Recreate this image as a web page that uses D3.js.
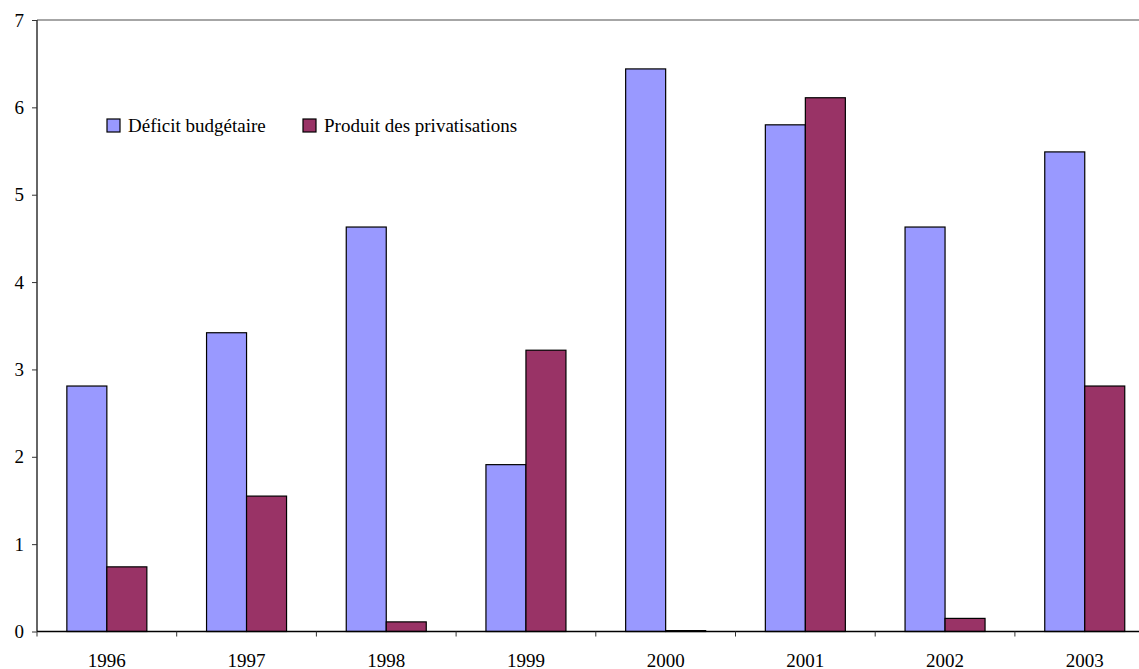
<!DOCTYPE html>
<html><head><meta charset="utf-8">
<script src="https://cdn.jsdelivr.net/npm/d3@7"></script>
<style>body{margin:0;background:#fff;}svg{display:block;}</style>
</head><body>
<svg id="chart" width="1139" height="669"></svg>
<script>
const categories = ["1996","1997","1998","1999","2000","2001","2002","2003"];
const seriesNames = ["Déficit budgétaire","Produit des privatisations"];
const deficit = [2.81,3.42,4.63,1.91,6.44,5.80,4.63,5.49];
const privatisations = [0.74,1.55,0.11,3.22,0.01,6.11,0.15,2.81];
const yTicks = [0,1,2,3,4,5,6,7];
const colors = ["#9999FF","#993366"];

(function(){
const FONT = "'Times New Roman', 'Liberation Serif', Tinos, 'DejaVu Serif', serif";
const FS = "19px";
const svg = d3.select("#chart");
const mLeft = 37, mTop = 20, mBottom = 631.5;
const band = 139.7;
const x = d3.scaleBand().domain(categories).range([mLeft, mLeft + band*categories.length]).paddingInner(0).paddingOuter(0);
const y = d3.scaleLinear().domain([0,7]).range([mBottom, mTop]);
const xs = d3.scaleBand().domain([0,1]).range([0, 80]);
const barOffset = (x.bandwidth() - 80)/2;

svg.append("line").attr("x1", mLeft).attr("x2", 1139).attr("y1", y(7)).attr("y2", y(7)).attr("stroke","#888").attr("stroke-width",1.5);

const data = categories.map((c,i)=>({c, v:[deficit[i], privatisations[i]]}));
const g = svg.append("g");
data.forEach(d=>{
  d.v.forEach((v,j)=>{
    g.append("rect")
      .attr("x", x(d.c) + barOffset + xs(j))
      .attr("y", y(v))
      .attr("width", xs.bandwidth())
      .attr("height", y(0)-y(v))
      .attr("fill", colors[j])
      .attr("stroke","#000").attr("stroke-width",1.2);
  });
});

const yAxis = d3.axisLeft(y).tickValues(yTicks).tickSize(5).tickPadding(8).tickFormat(d3.format("d"));
const ya = svg.append("g").attr("transform",`translate(${mLeft},0)`).call(yAxis);
ya.attr("font-family", null).attr("font-size", null);
ya.select(".domain").attr("stroke","#333").attr("stroke-width",1.5).attr("d",`M0,${mTop}V${mBottom}`);
ya.selectAll(".tick line").attr("stroke","#333");
ya.selectAll("text").attr("fill","#000").style("font-family",FONT).style("font-size",FS);

const xa = svg.append("g").attr("transform",`translate(0,${mBottom})`);
xa.append("line").attr("x1",mLeft).attr("x2",1139).attr("y1",0).attr("y2",0).attr("stroke","#000").attr("stroke-width",1.5);
categories.forEach((c,i)=>{
  xa.append("line").attr("x1",x(c)).attr("x2",x(c)).attr("y1",0).attr("y2",5).attr("stroke","#333");
  xa.append("text").attr("x",x(c)+x.bandwidth()/2).attr("y",35).attr("text-anchor","middle")
    .style("font-family",FONT).style("font-size",FS).attr("fill","#000").text(c);
});

const legendX = [107, 303];
seriesNames.forEach((n,i)=>{
  const lg = svg.append("g").attr("transform",`translate(${legendX[i]},119)`);
  lg.append("rect").attr("x",0).attr("y",0).attr("width",13).attr("height",13).attr("fill",colors[i]).attr("stroke","#000").attr("stroke-width",1.2);
  lg.append("text").attr("x",21).attr("y",13).style("font-family",FONT).style("font-size",FS).attr("fill","#000").text(n);
});
})();
</script>
</body></html>
